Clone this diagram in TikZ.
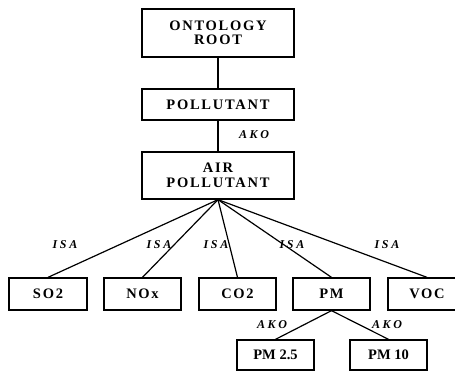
\documentclass[tikz,border=0pt]{standalone}
\usepackage{fontspec}
\setmainfont{Liberation Serif}
\newfontfamily\boxfont[LetterSpace=12]{Liberation Serif}
\newfontfamily\labfont[LetterSpace=22]{Liberation Serif}
\begin{document}
\begin{tikzpicture}[x=1pt,y=-1pt,
  cls/.style={draw, line width=1.3pt, inner sep=0pt, align=center,
    font=\boxfont\bfseries\fontsize{14.5}{14.5}\selectfont},
  leaf/.style={draw, line width=1.3pt, inner sep=0pt, align=center,
    font=\bfseries\fontsize{14.5}{14.5}\selectfont},
  rel/.style={font=\labfont\bfseries\itshape\fontsize{12}{12}\selectfont, inner sep=0pt},
  link/.style={line width=1.2pt}]
\useasboundingbox (0,0) rectangle (455,374);
\node[cls, minimum width=152pt, minimum height=48pt] (root) at (218,33) {ONTOLOGY\\ROOT};
\node[cls, minimum width=152pt, minimum height=31pt] (poll) at (218,104.5) {POLLUTANT};
\node[cls, minimum width=152pt, minimum height=47pt] (air) at (218,175.5) {AIR\\POLLUTANT};
\node[cls, minimum width=78pt, minimum height=32pt] (so2) at (48,294) {SO2};
\node[cls, minimum width=77pt, minimum height=32pt] (nox) at (142.5,294) {NOx};
\node[cls, minimum width=77pt, minimum height=32pt] (co2) at (237.5,294) {CO2};
\node[cls, minimum width=77pt, minimum height=32pt] (pm) at (331.5,294) {PM};
\node[cls, minimum width=78pt, minimum height=32pt] (voc) at (427,294) {VOC};
\node[leaf, minimum width=77pt, minimum height=30pt] (pm25) at (275.5,355) {PM 2.5};
\node[leaf, minimum width=77pt, minimum height=30pt] (pm10) at (388.5,355) {PM 10};
\draw[link] (root) -- (poll);
\draw[link] (poll) -- (air);
\foreach \c in {so2,nox,co2,pm,voc} \draw[link] (air.south) -- (\c.north);
\draw[link] (pm.south) -- (pm25.north);
\draw[link] (pm.south) -- (pm10.north);
\node[rel] (l1) at (254,135) {AKO};
\node[rel] (i1) at (65,245) {ISA};
\node[rel] (i2) at (159,245) {ISA};
\node[rel] (i3) at (216,245) {ISA};
\node[rel] (i4) at (292,245) {ISA};
\node[rel] (i5) at (387,245) {ISA};
\node[rel] (l2) at (272,325) {AKO};
\node[rel] (l3) at (387,325) {AKO};
\end{tikzpicture}
\end{document}
